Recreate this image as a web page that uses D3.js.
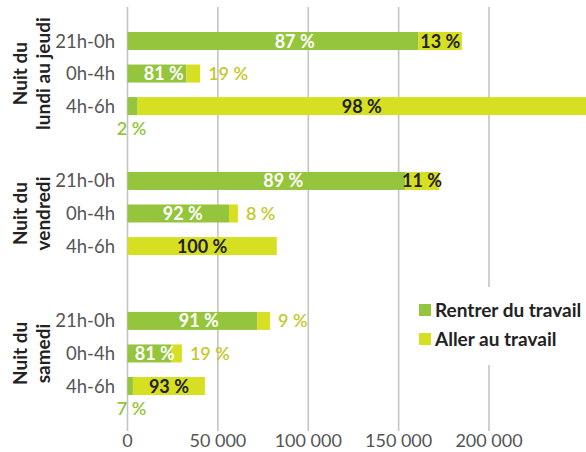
<!DOCTYPE html>
<html>
<head>
<meta charset="utf-8">
<script src="https://cdn.jsdelivr.net/npm/d3@7"></script>
<style>
  body { margin: 0; background: #fff; }
  svg { display: block; font-family: Lato, "Open Sans", sans-serif; }
</style>
</head>
<body>
<svg id="chart" width="586" height="452"></svg>
<script>
// data
const groups = [['Nuit du', 'lundi au jeudi'], ['Nuit du', 'vendredi'], ['Nuit du', 'samedi']];
const slots = ['21h-0h', '0h-4h', '4h-6h'];
const rentrer = [161000, 32600, 5600, 153600, 56200, 0, 71800, 24400, 3000];
const aller = [24000, 7600, 274000, 18800, 4900, 82600, 7100, 5700, 39800];
const rentrerPct = [87, 81, 2, 89, 92, 0, 91, 81, 7];
const allerPct = [13, 19, 98, 11, 8, 100, 9, 19, 93];
const ticks = [0, 50000, 100000, 150000, 200000];
const legendItems = ['Rentrer du travail', 'Aller au travail'];

const W = 586, H = 452;
const green = '#95c43d', yellow = '#d7df23';
const svg = d3.select('#chart');

const x = d3.scaleLinear().domain([0, 200000]).range([127.5, 489]);
// 3 rows per group, groups spaced by 4.3 row slots
const y = d3.scaleLinear().domain([0, 2 * 4.3 + 2]).range([41, 386]);
const barH = 18;
const fmt = v => String(v).replace(/\B(?=(\d{3})+(?!\d))/g, ' ');

const rows = rentrer.map((r, i) => {
  const g = Math.floor(i / 3), s = i % 3;
  return { i, g, s, r, a: aller[i], cy: y(g * 4.3 + s) };
});

// gridlines
svg.append('g').selectAll('line').data(ticks).join('line')
  .attr('x1', d => x(d)).attr('x2', d => x(d))
  .attr('y1', 7).attr('y2', 431)
  .attr('stroke', '#c4c4c4').attr('stroke-width', 1.6);

// tick labels
svg.append('g').selectAll('text').data(ticks).join('text')
  .attr('x', d => x(d)).attr('y', 447)
  .attr('text-anchor', 'middle')
  .attr('font-size', 18).attr('fill', '#555')
  .text(fmt);

// legend with white backing over the gridline
const leg = svg.append('g');
leg.append('rect').attr('x', 414).attr('y', 287).attr('width', 172).attr('height', 78).attr('fill', '#fff');
legendItems.forEach((t, k) => {
  leg.append('rect').attr('x', 419).attr('y', 304 + k * 29).attr('width', 12).attr('height', 12)
    .attr('fill', k === 0 ? green : yellow);
  leg.append('text').attr('x', 435).attr('y', 317 + k * 29)
    .attr('font-size', 19).attr('font-weight', 'bold').attr('fill', '#222')
    .text(t);
});

// bars
const bars = svg.append('g');
bars.selectAll('rect.r').data(rows).join('rect').attr('class', 'r')
  .attr('x', x(0)).attr('y', d => d.cy - barH / 2)
  .attr('width', d => x(d.r) - x(0)).attr('height', barH)
  .attr('fill', green);
bars.selectAll('rect.a').data(rows).join('rect').attr('class', 'a')
  .attr('x', d => x(d.r)).attr('y', d => d.cy - barH / 2)
  .attr('width', d => x(d.r + d.a) - x(d.r)).attr('height', barH)
  .attr('fill', yellow);

// row labels
svg.append('g').selectAll('text').data(rows).join('text')
  .attr('x', 115).attr('y', d => d.cy + 6.5)
  .attr('text-anchor', 'end').attr('font-size', 18.5).attr('fill', '#555')
  .text(d => slots[d.s]);

// value labels
const lab = svg.append('g').attr('font-size', 18);
rows.forEach(d => {
  const x0 = x(0), xr = x(d.r), xe = Math.min(x(d.r + d.a), W);
  if (d.r > 0) {
    if (xr - x0 > 40) {
      lab.append('text').attr('x', (x0 + xe) / 2).attr('y', d.cy + 6.5)
        .attr('text-anchor', 'middle').attr('font-weight', 'bold').attr('fill', '#fff')
        .text(rentrerPct[d.i] + ' %');
    } else {
      lab.append('text').attr('x', x0 + 4).attr('y', d.cy + barH / 2 + 20)
        .attr('text-anchor', 'middle').attr('font-weight', 600).attr('fill', green)
        .text(rentrerPct[d.i] + ' %');
    }
  }
  if (xe - xr > 30) {
    lab.append('text').attr('x', (xr + xe) / 2).attr('y', d.cy + 6.5)
      .attr('text-anchor', 'middle').attr('font-weight', 'bold').attr('fill', '#222')
      .text(allerPct[d.i] + ' %');
  } else {
    lab.append('text').attr('x', xe + 8).attr('y', d.cy + 6.5)
      .attr('font-weight', 600).attr('fill', '#c3c92a')
      .text(allerPct[d.i] + ' %');
  }
});

// group labels, rotated
groups.forEach((lines, g) => {
  const cy = (y(g * 4.3) + y(g * 4.3 + 2)) / 2;
  const t = svg.append('text')
    .attr('transform', `translate(0,${cy}) rotate(-90)`)
    .attr('text-anchor', 'middle').attr('font-size', 19).attr('font-weight', 'bold').attr('fill', '#222');
  lines.forEach((l, k) => {
    t.append('tspan').attr('x', 0).attr('y', 27 + k * 23).text(l);
  });
});
</script>
</body>
</html>
